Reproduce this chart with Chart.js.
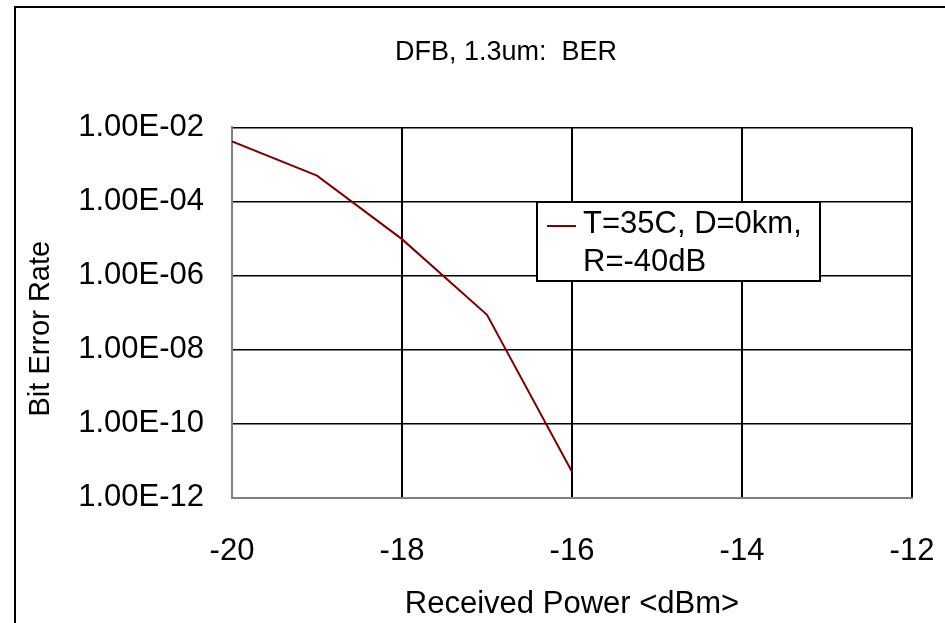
<!DOCTYPE html>
<html>
<head>
<meta charset="utf-8">
<script src="https://cdn.jsdelivr.net/npm/chart.js@4.4.1/dist/chart.umd.min.js"></script>
<style>
  body { margin: 0; background: #fff; }
  canvas { display: block; }
</style>
</head>
<body>
<canvas id="ber_chart" width="945" height="623"></canvas>
<script>
const powerDbm = [-20, -19, -18, -17, -16];
const berValues = [4.2e-3, 5.0e-4, 9.6e-6, 8.7e-8, 5.0e-12];
const yTicks = [1e-12, 1e-10, 1e-8, 1e-6, 1e-4, 1e-2];
const legendLines = ["T=35C, D=0km,", "R=-40dB"];
const FONT = "'Liberation Sans', Arial, sans-serif";

// 1.00E-02 style labels like the spreadsheet
function sciLabel(v) {
  const e = Math.round(Math.log10(v));
  const m = v / Math.pow(10, e);
  return m.toFixed(2) + "E" + (e < 0 ? "-" : "+") + String(Math.abs(e)).padStart(2, "0");
}

const framePlugin = {
  id: "frame",
  afterLayout(chart) {
    // title sits a bit right of the canvas centre in the original
    const tb = chart.titleBlock;
    const d = 506 - (tb.left + tb.right) / 2;
    tb.left += d;
    tb.right += d;
  },
  beforeDraw(chart) {
    const c = chart.ctx;
    c.save();
    c.fillStyle = "#fff";
    c.fillRect(0, 0, chart.width, chart.height);
    c.strokeStyle = "#000";
    c.lineWidth = 2;
    c.beginPath();
    c.moveTo(15, chart.height + 5);
    c.lineTo(15, 7);
    c.lineTo(chart.width + 5, 7);
    c.stroke();
    c.restore();
  }
};

// two line legend box inside the plot
const boxLegend = {
  id: "boxLegend",
  afterDatasetsDraw(chart) {
    const c = chart.ctx;
    const ds = chart.data.datasets[0];
    const x0 = 537, y0 = 202, w = 283, h = 79;
    c.save();
    c.fillStyle = "#fff";
    c.fillRect(x0, y0, w, h);
    c.strokeStyle = "#000";
    c.lineWidth = 2;
    c.strokeRect(x0, y0, w, h);
    c.strokeStyle = ds.borderColor;
    c.lineWidth = 2;
    c.beginPath();
    c.moveTo(547, 226);
    c.lineTo(576, 226);
    c.stroke();
    c.fillStyle = "#000";
    c.font = "31px " + FONT;
    c.textBaseline = "middle";
    c.textAlign = "left";
    legendLines.forEach((t, i) => c.fillText(t, 583, 224 + i * 38));
    c.restore();
  }
};

window.onload = function () {
  const ctx = document.getElementById("ber_chart").getContext("2d");
  const points = powerDbm.map((p, i) => ({ x: p, y: berValues[i] }));

  new Chart(ctx, {
    type: "line",
    data: {
      datasets: [
        {
          label: legendLines.join(" "),
          data: points,
          borderColor: "#800000",
          backgroundColor: "#800000",
          borderWidth: 2,
          pointRadius: 0,
          tension: 0,
          fill: false,
        },
      ],
    },
    options: {
      responsive: false,
      animation: false,
      devicePixelRatio: 1,
      layout: { padding: { left: 0, right: 33, top: 0, bottom: 0 } },
      plugins: {
        legend: { display: false },
        tooltip: { enabled: false },
        title: {
          display: true,
          text: "DFB, 1.3um:  BER",
          color: "#000",
          font: { family: FONT, size: 27, weight: "normal" },
          padding: { top: 36, bottom: 59 },
        },
      },
      scales: {
        x: {
          type: "linear",
          position: "bottom",
          min: -20,
          max: -12,
          afterFit: (s) => {
            s.height = 125.3;
            s.paddingLeft = 0;
            s.paddingRight = 0;
          },
          ticks: {
            stepSize: 2,
            padding: 35,
            color: "#000",
            font: { family: FONT, size: 31 },
          },
          grid: { color: "#000", lineWidth: 2, drawTicks: false },
          border: { color: "#808080", width: 2 },
          title: {
            display: true,
            text: "Received Power <dBm>",
            color: "#000",
            font: { family: FONT, size: 31 },
            padding: { top: 0, bottom: 0 },
          },
        },
        y: {
          type: "logarithmic",
          min: 1e-12,
          max: 1e-2,
          afterFit: (s) => { s.width = 232; },
          afterBuildTicks: (s) => { s.ticks = yTicks.map((v) => ({ value: v })); },
          ticks: {
            padding: 28,
            color: "#000",
            font: { family: FONT, size: 31 },
            callback: (v) => sciLabel(v),
          },
          grid: { color: "#000", lineWidth: 1.5, drawTicks: false },
          border: { color: "#808080", width: 2 },
          title: {
            display: true,
            text: "Bit Error Rate    ",
            color: "#000",
            font: { family: FONT, size: 29 },
            padding: { top: 24, bottom: 0 },
          },
        },
      },
    },
    plugins: [framePlugin, boxLegend],
  });
};
</script>
</body>
</html>
